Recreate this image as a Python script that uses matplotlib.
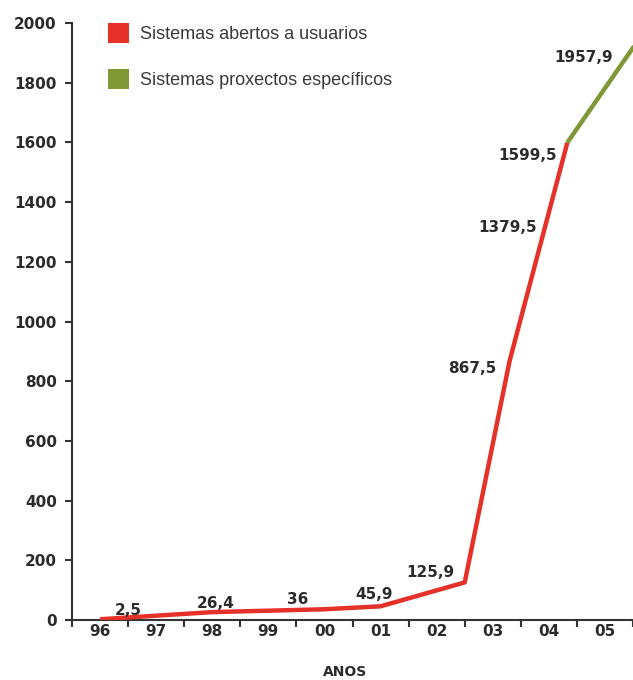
import matplotlib.pyplot as plt
from matplotlib.patches import Patch

# evolución acumulada (anos como fracción de ano, 1996 = primeiro intervalo)
anos = [1996, 1998, 2000, 2001, 2002.5, 2003.3, 2004.02, 2004.33, 2005.65]
valores = [2.5, 26.4, 36, 45.9, 125.9, 867.5, 1379.5, 1599.5, 1957.9]
etiquetas = ['2,5', '26,4', '36', '45,9', '125,9', '867,5', '1379,5', '1599,5', '1957,9']
# desprazamento de cada etiqueta respecto do seu punto (pixels)
desp = [(28, 9), (3, 9), (-27, 10), (-6, 12), (-34, 10), (-37, -7), (-42, -19), (-40, -13), (-58, -22)]
corte = 7  # índice do punto onde empeza o tramo verde

ticks_anos = ['96', '97', '98', '99', '00', '01', '02', '03', '04', '05']

VERMELLO = '#e6302a'
VERDE = '#7f9735'
TEXTO = '#2b2b2b'

fig = plt.figure(figsize=(6.33, 6.80), dpi=100)
ax = fig.add_axes([72 / 633, 60 / 680, 1 - 72 / 633, 597 / 680])

ax.plot(anos[:corte + 1], valores[:corte + 1], color=VERMELLO, lw=3.2, solid_capstyle='butt', zorder=3)
ax.plot(anos[corte:], valores[corte:], color=VERDE, lw=3.2, solid_capstyle='butt', zorder=3)

for a, v, t, d in zip(anos, valores, etiquetas, desp):
    ax.annotate(t, (a, v), xytext=d, textcoords='offset pixels', ha='center', va='center',
                fontsize=11, fontweight='bold', color=TEXTO, annotation_clip=False)

ax.set_xlim(1995.5, 2005.45)
ax.set_ylim(0, 2000)

# marcas nos límites de cada ano, etiquetas no centro
ax.set_xticks([1995.5 + i for i in range(11)])
ax.set_xticklabels([])
ax.set_xticks([1996 + i for i in range(len(ticks_anos))], minor=True)
ax.set_xticklabels(ticks_anos, minor=True)
ax.tick_params(axis='x', which='major', direction='out', length=5, width=1.5, color='#333333')
ax.tick_params(axis='x', which='minor', length=0, pad=3, labelsize=11, labelcolor=TEXTO)
for lb in ax.get_xticklabels(minor=True):
    lb.set_fontweight('bold')

ax.set_yticks(range(0, 2001, 200))
ax.tick_params(axis='y', direction='out', length=5, width=1.5, color='#333333', pad=6,
               labelsize=11, labelcolor=TEXTO)
for lb in ax.get_yticklabels():
    lb.set_fontweight('bold')

for s in ['top', 'right']:
    ax.spines[s].set_visible(False)
for s in ['left', 'bottom']:
    ax.spines[s].set_linewidth(1.5)
    ax.spines[s].set_color('#333333')

fig.text(345 / 633, 1 - 672 / 680, 'ANOS', ha='center', va='center',
         fontsize=10, fontweight='bold', color=TEXTO)

handles = [Patch(facecolor=VERMELLO, edgecolor='none', label='Sistemas abertos a usuarios'),
           Patch(facecolor=VERDE, edgecolor='none', label='Sistemas proxectos específicos')]
leg = ax.legend(handles=handles, loc='upper left', bbox_to_anchor=(36 / 561, 1.0),
                frameon=False, handlelength=1.15, handleheight=1.3, handletextpad=0.65,
                labelspacing=1.45, borderaxespad=0, borderpad=0,
                prop={'family': 'Liberation Sans', 'size': 13})
for t in leg.get_texts():
    t.set_color('#3a3a3a')

fig.savefig('out.png', dpi=100)
